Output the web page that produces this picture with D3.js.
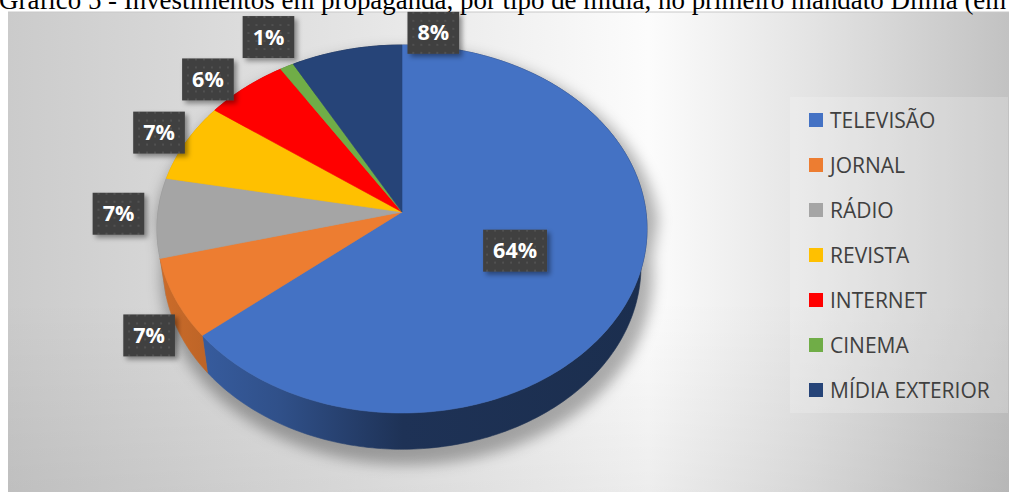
<!DOCTYPE html>
<html><head><meta charset="utf-8">
<script src="https://cdn.jsdelivr.net/npm/d3@7"></script>
<style>
html,body{margin:0;padding:0;background:#fff;overflow:hidden;}
svg{display:block;}
</style></head>
<body>
<svg id="chart" width="1009" height="492"></svg>
<script>
// ---- data ----
const categories = ["TELEVISÃO","JORNAL","RÁDIO","REVISTA","INTERNET","CINEMA","MÍDIA EXTERIOR"];
const values = [64, 7, 7, 7, 6, 1, 8];
const valueLabels = ["64%","7%","7%","7%","6%","1%","8%"];
const colors = ["#4472C4","#ED7D31","#A5A5A5","#FFC000","#FF0000","#70AD47","#264478"];
const titleText = "Gráfico 5 - Investimentos em propaganda, por tipo de mídia, no primeiro mandato Dilma (em %)";

// ---- layout ----
const W = 1009, H = 492;
const cx = 402, cy = 212;          // projected pie centre
const F = 1754, Dist = 7.19;       // perspective
const cosT = 0.664, sinT = 0.7477; // tilt
const thick = 0.24;                // pie thickness (unit radius)
const labelAnchorR = [0.55, 1, 1, 1, 1, 1, 1];
const labelOffset = [[-11,-5],[-26,37],[-39,-4],[-27,-9.5],[-37.6,-8],[-18.5,-29.5],[87,-17]];

const svg = d3.select("#chart");
const defs = svg.append("defs");

function proj(a, r, Y){
  const X = r*Math.sin(a), Z = r*Math.cos(a);
  const yc = Y*cosT + Z*sinT;
  const zc = Z*cosT - Y*sinT + Dist;
  return [cx + F*X/zc, cy - F*yc/zc];
}
function arcPts(a0, a1, r, Y){
  const n = Math.max(2, Math.ceil((a1-a0)/(Math.PI/180)));
  return d3.range(n+1).map(i => proj(a0 + (a1-a0)*i/n, r, Y));
}
const line = d3.line();

// background
const bg = defs.append("linearGradient").attr("id","bg").attr("x1","0").attr("x2","1").attr("y1","0").attr("y2","0");
[[0,"#cbcbcb"],[0.3,"#e1e1e1"],[0.64,"#fcfcfc"],[0.8,"#e4e4e4"],[1,"#c2c2c2"]].forEach(s=>bg.append("stop").attr("offset",s[0]).attr("stop-color",s[1]));
const bgv = defs.append("linearGradient").attr("id","bgv").attr("x1","0").attr("x2","0").attr("y1","0").attr("y2","1");
[[0,0],[0.6,0],[1,0.06]].forEach(s=>bgv.append("stop").attr("offset",s[0]).attr("stop-color","#000").attr("stop-opacity",s[1]));

svg.append("rect").attr("x",8).attr("y",12).attr("width",W-8).attr("height",H-12).attr("fill","url(#bg)");
svg.append("rect").attr("x",8).attr("y",12).attr("width",W-8).attr("height",H-12).attr("fill","url(#bgv)");
svg.append("line").attr("x1",8).attr("x2",W).attr("y1",12).attr("y2",12).attr("stroke","#c8c8c8").attr("stroke-width",1);

// title (clipped at top of page, as in the source image)
const title = svg.append("text").attr("x",-1).attr("y",9)
  .attr("font-family","'Liberation Serif', 'Times New Roman', serif")
  .attr("font-size",22).attr("fill","#000").text(titleText);
{
  const idx = titleText.indexOf("(");
  const len = title.node().getSubStringLength(0, idx);
  title.attr("font-size", 22*966/len);
}

// legend background
svg.append("rect").attr("x",790).attr("y",97).attr("width",218).attr("height",316)
  .attr("fill","#fff").attr("fill-opacity",0.2);

// ---- pie ----
const pie = d3.pie().sort(null).startAngle(0).endAngle(2*Math.PI)(values);
const color = d3.scaleOrdinal().domain(categories).range(colors);

// shadow
const sh = defs.append("filter").attr("id","pshadow").attr("x","-20%").attr("y","-20%").attr("width","140%").attr("height","140%");
sh.append("feGaussianBlur").attr("stdDeviation",7);
const silhouette = arcPts(-Math.PI/2, Math.PI/2, 1.03, 0).concat(arcPts(Math.PI/2, 3*Math.PI/2, 1.03, -thick));
svg.append("path").attr("d", line(silhouette)+"Z")
  .attr("transform","translate(5,9)").attr("fill","#000").attr("fill-opacity",0.3).attr("filter","url(#pshadow)");

const pieG = svg.append("g");
// side walls gradients
colors.forEach((c,i)=>{
  const g = defs.append("linearGradient").attr("id","wall"+i).attr("gradientUnits","userSpaceOnUse")
    .attr("x1",158).attr("x2",647).attr("y1",0).attr("y2",0);
  const base = d3.rgb(c);
  [[0,0.86],[0.25,0.7],[0.5,0.44],[1,0.4]].forEach(s=>{
    g.append("stop").attr("offset",s[0]).attr("stop-color", d3.rgb(base.r*s[1], base.g*s[1], base.b*s[1]).formatHex());
  });
});
const walls = pie.map((d,i)=>({d,i,z:Math.cos((d.startAngle+d.endAngle)/2)})).sort((a,b)=>b.z-a.z);
pieG.selectAll("path.wall").data(walls).join("path").attr("class","wall")
  .attr("d", w => {
    const top = arcPts(w.d.startAngle, w.d.endAngle, 1, 0);
    const bot = arcPts(w.d.startAngle, w.d.endAngle, 1, -thick).reverse();
    return line(top.concat(bot)) + "Z";
  })
  .attr("fill", w => "url(#wall"+w.i+")")
  .attr("stroke", w => "url(#wall"+w.i+")").attr("stroke-width",0.6);

pieG.selectAll("path.top").data(pie).join("path").attr("class","top")
  .attr("d", d => line([proj(0,0,0)].concat(arcPts(d.startAngle, d.endAngle, 1, 0))) + "Z")
  .attr("fill", (d,i)=>color(categories[i]))
  .attr("stroke", (d,i)=>color(categories[i])).attr("stroke-width",0.6);

// ---- data labels ----
const pat = defs.append("pattern").attr("id","dots").attr("patternUnits","userSpaceOnUse").attr("width",8).attr("height",8);
pat.append("rect").attr("width",8).attr("height",8).attr("fill","#404040");
pat.append("circle").attr("cx",4).attr("cy",4).attr("r",1).attr("fill","#575757");
const ds = defs.append("filter").attr("id","lshadow").attr("x","-30%").attr("y","-30%").attr("width","160%").attr("height","160%");
ds.append("feDropShadow").attr("dx",3).attr("dy",3).attr("stdDeviation",2.5).attr("flood-color","#000").attr("flood-opacity",0.4);

const lab = svg.append("g").selectAll("g").data(pie).join("g")
  .attr("transform",(d,i)=>{
    const p = proj((d.startAngle+d.endAngle)/2, labelAnchorR[i], 0);
    return `translate(${p[0]+labelOffset[i][0]},${p[1]+labelOffset[i][1]})`;
  });
lab.append("text").attr("text-anchor","middle").attr("y",7.5)
  .attr("font-family","'Open Sans', sans-serif").attr("font-weight",700).attr("font-size",21.5)
  .attr("fill","#fff").text((d,i)=>valueLabels[i]);
lab.each(function(){
  const g = d3.select(this);
  const w = g.select("text").node().getComputedTextLength() + 20;
  g.insert("rect","text").attr("x",-w/2).attr("y",-21).attr("width",w).attr("height",42)
    .attr("fill","url(#dots)").attr("filter","url(#lshadow)");
});

// ---- legend ----
const leg = svg.append("g").selectAll("g").data(categories).join("g")
  .attr("transform",(d,i)=>`translate(809,${120 + i*45})`);
leg.append("rect").attr("x",0).attr("y",-7).attr("width",14).attr("height",14).attr("fill",d=>color(d));
leg.append("text").attr("x",21).attr("y",7.5).attr("font-family","'Open Sans', sans-serif")
  .attr("font-size",21).attr("fill","#404040").text(d=>d);
</script>
</body></html>
